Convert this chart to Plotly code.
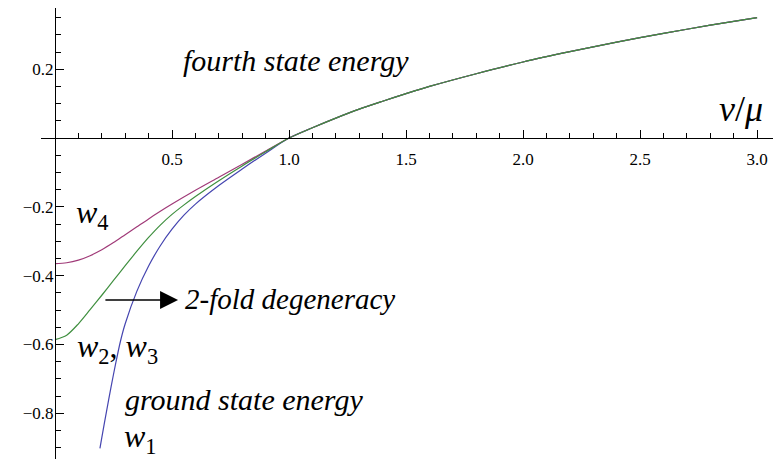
import plotly.graph_objects as go

# Values (nu/mu, energy)
upper_nu = [1.1, 1.2, 1.3, 1.4, 1.5, 1.6, 1.8, 2.0, 2.2, 2.4, 2.6, 2.8, 3.0]
upper_w = [0.030, 0.058, 0.084, 0.107, 0.129, 0.150, 0.187, 0.221, 0.251, 0.279, 0.304, 0.328, 0.350]

nu_w4 = [0.0, 0.05, 0.1, 0.15, 0.2, 0.25, 0.3, 0.35, 0.4, 0.45, 0.5, 0.6, 0.7, 0.8, 0.9, 1.0] + upper_nu
w4 = [-0.365, -0.3625, -0.355, -0.342, -0.325, -0.304, -0.281, -0.258, -0.235, -0.213, -0.192,
      -0.152, -0.114, -0.076, -0.038, 0.0] + upper_w

nu_w23 = [0.0, 0.05, 0.1, 0.15, 0.2, 0.25, 0.3, 0.35, 0.4, 0.45, 0.5, 0.55, 0.6, 0.7, 0.8, 0.9, 1.0] + upper_nu
w23 = [-0.586, -0.573, -0.540, -0.499, -0.457, -0.414, -0.371, -0.329, -0.289, -0.253, -0.222,
       -0.195, -0.170, -0.124, -0.081, -0.040, 0.0] + upper_w

nu_w1 = [0.192, 0.2, 0.22, 0.24, 0.26, 0.28, 0.3, 0.35, 0.4, 0.45, 0.5, 0.55, 0.6, 0.7, 0.8, 0.9, 1.0] + upper_nu
w1 = [-0.902, -0.871, -0.795, -0.722, -0.653, -0.590, -0.540, -0.445, -0.372, -0.313, -0.265,
      -0.225, -0.192, -0.138, -0.090, -0.044, 0.0] + upper_w

x_tickvals = [0.5, 1.0, 1.5, 2.0, 2.5, 3.0]
x_ticktext = ["0.5", "1.0", "1.5", "2.0", "2.5", "3.0"]
y_tickvals = [0.2, -0.2, -0.4, -0.6, -0.8]
y_ticktext = ["0.2", "\u22120.2", "\u22120.4", "\u22120.6", "\u22120.8"]

BLUE = "#4545b0"
MAGENTA = "#a03a78"
GREEN = "#3f8f3f"
SERIF = "Liberation Serif"

fig = go.Figure()
for xs, ys, col in [(nu_w1, w1, BLUE), (nu_w4, w4, MAGENTA), (nu_w23, w23, GREEN)]:
    fig.add_trace(go.Scatter(x=xs, y=ys, mode="lines",
                             line=dict(color=col, width=1.2, shape="spline", smoothing=0.8),
                             hoverinfo="skip"))

xr = [-0.0598, 3.068]
yr = [-0.933, 0.378]

fig.update_layout(
    width=773, height=459,
    margin=dict(l=41, r=0, t=8, b=0),
    plot_bgcolor="white", paper_bgcolor="white",
    showlegend=False,
    font=dict(family=SERIF, color="black"),
    xaxis=dict(
        range=xr, anchor="free", position=(0 - yr[0]) / (yr[1] - yr[0]),
        showline=True, linecolor="black", linewidth=1,
        showgrid=False, zeroline=False,
        tickmode="array", tickvals=x_tickvals, ticktext=x_ticktext,
        ticks="inside", ticklen=8, tickwidth=1, tickcolor="black",
        ticklabelstandoff=6,
        tickfont=dict(family=SERIF, size=17, color="black"),
        minor=dict(tickmode="linear", tick0=0, dtick=0.1, ticks="inside", ticklen=5, tickwidth=1, tickcolor="black"),
    ),
    yaxis=dict(
        range=yr, anchor="free", position=(0 - xr[0]) / (xr[1] - xr[0]),
        showline=True, linecolor="black", linewidth=1,
        showgrid=False, zeroline=False,
        tickmode="array", tickvals=y_tickvals, ticktext=y_ticktext,
        ticks="inside", ticklen=8, tickwidth=1, tickcolor="black",
        ticklabelstandoff=-2,
        tickfont=dict(family=SERIF, size=17, color="black"),
        minor=dict(tickmode="linear", tick0=0, dtick=0.05, ticks="inside", ticklen=5, tickwidth=1, tickcolor="black"),
    ),
)

def label(text, x, y, size, xanchor="center"):
    fig.add_annotation(x=x, y=y, xref="x", yref="y", text=text, showarrow=False,
                       xanchor=xanchor, yanchor="middle",
                       font=dict(family=SERIF, size=size, color="black"))

label("<i>fourth state energy</i>", 1.03, 0.225, 30)
label("<i>\u03bd</i>/<i>\u03bc</i>", 2.93, 0.085, 36)
label("<i>w</i><sub>4</sub>", 0.16, -0.222, 32)
label("<i>w</i><sub>2</sub>, <i>w</i><sub>3</sub>", 0.265, -0.612, 32)
label("<i>ground state energy</i>", 0.808, -0.76, 30)
label("<i>w</i><sub>1</sub>", 0.365, -0.872, 32)
label("<i>2-fold degeneracy</i>", 0.545, -0.468, 29, xanchor="left")

fig.add_annotation(x=0.526, y=-0.471, ax=0.209, ay=-0.471, xref="x", yref="y", axref="x", ayref="y",
                   text="", showarrow=True, arrowhead=2, arrowsize=2.4, arrowwidth=1.5, arrowcolor="black")

fig.write_html("out.html", config={"displayModeBar": False},
               post_script="document.body.style.margin='0px';")
